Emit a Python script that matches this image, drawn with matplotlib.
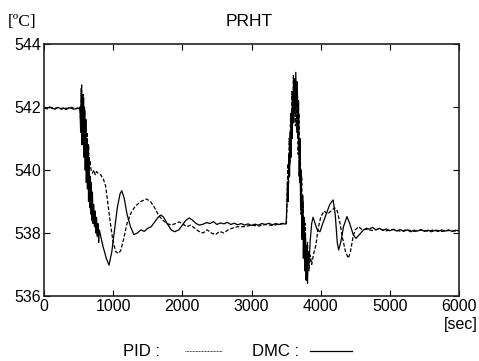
import matplotlib
matplotlib.use('Agg')
import matplotlib.pyplot as plt
from matplotlib.lines import Line2D

# DMC response (solid line), time [sec] and temperature [degC]
dmc_t = [0, 40, 80, 120, 160, 200, 240, 280, 320, 360, 400, 440, 480, 510,
         520, 530, 540, 548, 556, 564, 572, 580, 588, 596, 604, 612, 620, 628, 636,
         644, 652, 660, 668, 676, 684, 692, 700, 710, 720, 730, 740, 750, 760, 770,
         780, 790, 800,
         850, 900, 940, 980, 1020, 1060, 1100, 1125, 1160, 1200, 1250, 1300, 1350,
         1400, 1450, 1500, 1550, 1600, 1650, 1690, 1730, 1780, 1840, 1890, 1950,
         2000, 2050, 2100, 2150, 2200, 2250,
         2300, 2350, 2400, 2450, 2500, 2550, 2600, 2650, 2700, 2750, 2800, 2850,
         2900, 2950, 3000, 3050, 3100, 3150, 3200, 3250, 3300, 3350, 3400, 3450, 3490,
         3500, 3510, 3520, 3530, 3540, 3550, 3560, 3570, 3580, 3590, 3600, 3610,
         3620, 3630, 3640, 3650, 3660, 3670, 3680, 3690, 3700, 3710, 3720, 3730,
         3740, 3750, 3760, 3770, 3780, 3790, 3800, 3810, 3820, 3830, 3850, 3870,
         3890, 3920, 3950, 3990, 4030, 4080, 4130, 4180, 4210, 4240, 4260, 4290,
         4330, 4380, 4420, 4470, 4510, 4560, 4620, 4670,
         4700, 4750, 4800, 4850, 4900, 4950, 5000, 5050, 5100, 5150, 5200, 5250,
         5300, 5350, 5400, 5450, 5500, 5550, 5600, 5650, 5700, 5750, 5800, 5850,
         5900, 5950, 6000]
dmc_v = [541.98, 541.95, 542.0, 541.96, 541.93, 541.99, 541.95, 541.97, 541.92, 541.98,
         541.95, 541.93, 541.97, 541.94,
         542.0, 541.2, 542.6, 540.8, 542.4, 541.0, 542.3, 540.4, 541.9, 540.0, 541.6,
         539.6, 541.0, 539.4, 540.8, 539.0, 540.4, 538.8, 539.8, 538.6, 539.6, 538.4,
         539.3, 538.3, 538.9, 538.2, 538.7, 538.0, 538.5, 537.9, 538.3, 537.7, 538.1,
         537.6, 537.2, 536.98, 537.4, 538.1, 538.8, 539.25, 539.34, 539.1, 538.6,
         538.2, 537.95, 538.0, 538.1, 538.05, 538.15, 538.2, 538.35, 538.5, 538.57,
         538.5, 538.3, 538.1, 538.04, 538.1, 538.25, 538.4, 538.48, 538.4, 538.3, 538.25,
         538.28, 538.33, 538.30, 538.36, 538.27, 538.32, 538.29, 538.34, 538.27, 538.31,
         538.26, 538.30, 538.25, 538.29, 538.24, 538.28, 538.25, 538.30, 538.27, 538.31,
         538.26, 538.30, 538.27, 538.31, 538.28,
         538.3, 538.8, 539.6, 539.0, 540.5, 539.8, 541.2, 540.4, 541.9, 541.0, 542.5,
         541.5, 542.9, 541.8, 543.1, 542.0, 542.8, 541.0, 542.2, 539.8, 541.0, 538.8,
         540.0, 537.8, 539.2, 537.2, 538.5, 536.8, 538.0, 536.5, 537.6, 536.4, 537.4,
         537.0, 537.8, 538.3, 538.5, 538.3, 538.1, 538.04, 538.3, 538.6, 538.9, 539.05,
         538.6, 537.7, 537.46, 537.7, 538.2, 538.52, 538.3, 537.95, 537.83, 537.95,
         538.1, 538.15,
         538.12, 538.18, 538.10, 538.15, 538.08, 538.13, 538.07, 538.12, 538.06, 538.11,
         538.05, 538.10, 538.04, 538.09, 538.06, 538.11, 538.05, 538.09, 538.04, 538.08,
         538.05, 538.10, 538.06, 538.10, 538.05, 538.09, 538.07]

# PID response (dotted line)
pid_t = [0, 50, 100, 150, 200, 250, 300, 350, 400, 450, 500, 520,
         530, 545, 555, 565, 575, 585, 595, 605, 615, 625, 635, 645, 655, 665, 680,
         700, 720, 740, 760, 780, 820, 860, 890, 920, 960, 1000, 1040, 1080, 1110,
         1150, 1200, 1260, 1320, 1400, 1480, 1540, 1600, 1660, 1720, 1780, 1840, 1900,
         1950, 2000, 2060, 2120, 2180, 2240, 2300, 2360, 2420, 2480, 2540, 2600, 2660,
         2720, 2800, 2900, 3000, 3100, 3200, 3300, 3400, 3495,
         3505, 3515, 3525, 3535, 3545, 3555, 3565, 3575, 3585, 3595, 3605, 3615, 3625,
         3635, 3645, 3655, 3665, 3675, 3685, 3695, 3705, 3715, 3725, 3735, 3745, 3760,
         3775, 3790, 3810, 3830, 3850, 3870, 3900, 3930, 3960, 4000, 4050, 4100, 4150,
         4200, 4240, 4280, 4320, 4360, 4400, 4430, 4470, 4500, 4550, 4600,
         4650, 4750, 4850, 4950, 5050, 5150, 5250, 5350, 5450, 5550, 5650, 5750, 5850,
         5950, 6000]
pid_v = [541.97, 541.94, 541.99, 541.95, 541.98, 541.93, 541.97, 541.95, 541.99, 541.94,
         541.96, 541.97,
         541.5, 542.7, 541.0, 542.4, 540.8, 542.0, 540.6, 541.6, 540.4, 541.2, 540.3,
         540.8, 540.0, 540.3, 540.0, 539.9, 540.0, 539.85, 539.95, 539.9, 539.85, 539.7,
         539.5, 539.0, 538.3, 537.7, 537.4, 537.35, 537.45, 537.8, 538.3, 538.65,
         538.85, 539.0, 539.08, 539.0, 538.8, 538.55, 538.4, 538.3, 538.25, 538.3,
         538.35, 538.3, 538.2, 538.25, 538.15, 538.05, 538.0, 538.1, 538.0, 537.95,
         538.05, 538.0, 538.1, 538.15, 538.2, 538.2, 538.25, 538.22, 538.27, 538.24,
         538.28, 538.3,
         538.3, 539.0, 540.2, 539.5, 541.0, 540.2, 541.8, 540.9, 542.5, 541.5, 543.0,
         542.0, 542.6, 541.4, 542.8, 541.2, 542.4, 540.5, 541.8, 539.6, 540.9, 538.6,
         539.8, 538.0, 539.0, 537.6, 538.3, 537.0, 537.7, 536.8, 537.3, 537.0, 537.36,
         537.6, 538.1, 538.5, 538.7, 538.6, 538.7, 538.8, 538.7, 538.3, 537.8, 537.4,
         537.2, 537.4, 537.9, 538.1, 538.2, 538.1,
         538.12, 538.08, 538.13, 538.07, 538.11, 538.06, 538.10, 538.05, 538.09, 538.06,
         538.10, 538.05, 538.08, 538.06, 538.07]

x_ticks = [0, 1000, 2000, 3000, 4000, 5000, 6000]
y_ticks = [536, 538, 540, 542, 544]

plt.rcParams['font.family'] = ['Liberation Sans', 'DejaVu Sans']

fig = plt.figure(figsize=(4.79, 3.61), dpi=100)
ax = fig.add_axes([44 / 479, 1 - 296 / 361, 415 / 479, 252 / 361])

ax.plot(pid_t, pid_v, color='black', linewidth=0.9, linestyle=(0, (3, 1.5)))
ax.plot(dmc_t, dmc_v, color='black', linewidth=0.9)

ax.set_xlim(0, 6000)
ax.set_ylim(536, 544)
ax.set_xticks(x_ticks)
ax.set_yticks(y_ticks)
ax.tick_params(direction='in', length=4, width=0.8, top=True, right=True,
               labelsize=11.5, pad=2)
for sp in ax.spines.values():
    sp.set_linewidth(1.2)
    sp.set_color('#222222')

fig.text(249 / 479, 1 - 21 / 361, 'PRHT', ha='center', va='center', fontsize=12.5)
fig.text(8 / 479, 1 - 22 / 361, '[ºC]', ha='left', va='center', fontsize=12.5,
         family=['Liberation Serif', 'DejaVu Serif'])
fig.text(478 / 479, 1 - 325 / 361, '[sec]', ha='right', va='center', fontsize=11.5)

# legend below the axes
fig.text(123 / 479, 1 - 351 / 361, 'PID :', ha='left', va='center', fontsize=12)
fig.text(252 / 479, 1 - 351 / 361, 'DMC :', ha='left', va='center', fontsize=12)
fig.add_artist(Line2D([185 / 479, 222 / 479], [1 - 350.5 / 361, 1 - 350.5 / 361],
                      color='black', linewidth=0.6, linestyle=(0, (1, 0.8)),
                      transform=fig.transFigure))
fig.add_artist(Line2D([310 / 479, 352 / 479], [1 - 350.5 / 361, 1 - 350.5 / 361],
                      color='black', linewidth=0.9, transform=fig.transFigure))

fig.savefig('out.png', dpi=100)
